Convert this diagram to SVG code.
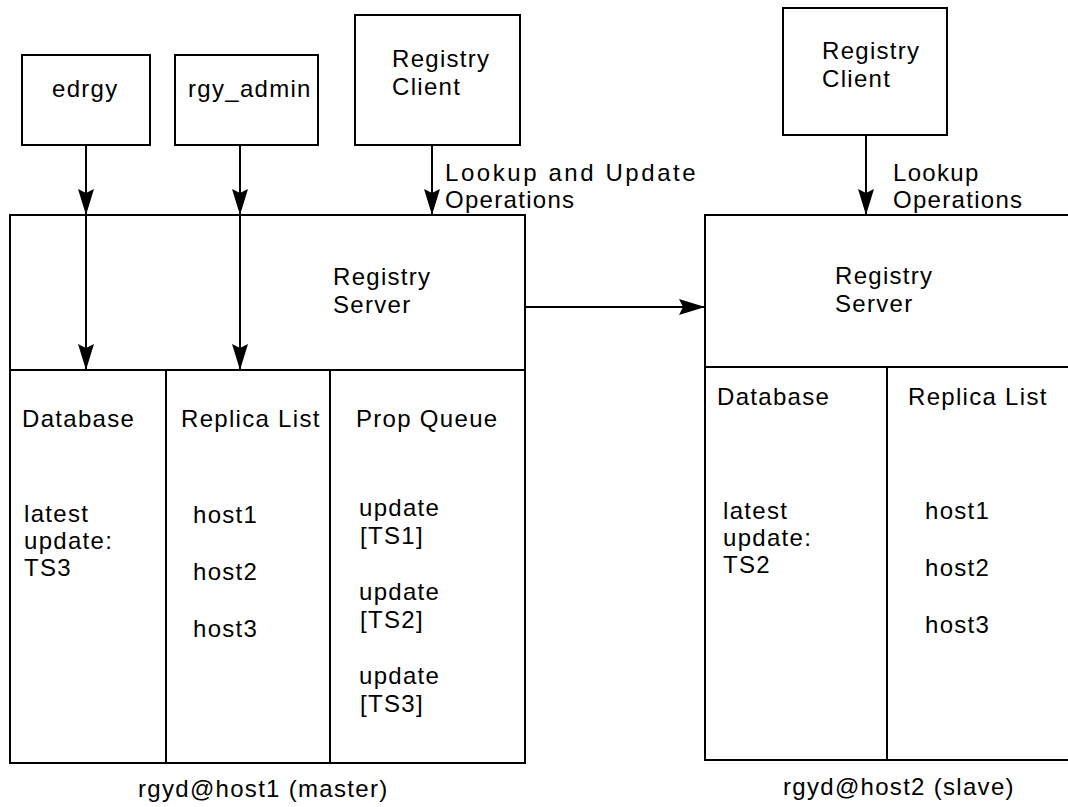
<svg xmlns="http://www.w3.org/2000/svg" width="1068" height="807" viewBox="0 0 1068 807">
  <style>
    .box { fill: #fff; stroke: #000; stroke-width: 2; }
    .ln { fill: none; stroke: #000; stroke-width: 2; }
    .t { font-family: "Liberation Sans", Arial, sans-serif; font-size: 24px; letter-spacing: 1.3px; fill: #000; }
  </style>
  <defs>
    <marker id="arrow" markerUnits="userSpaceOnUse" markerWidth="28" markerHeight="18" refX="26" refY="8" orient="auto">
      <path d="M0,0 L26,8 L0,16 L4,8 Z" fill="#000"/>
    </marker>
  </defs>
  <rect width="1068" height="807" fill="#fff"/>

  <!-- client programs -->
  <g id="edrgy">
    <rect class="box" x="22" y="55" width="128" height="90"/>
    <text class="t" x="52" y="97">edrgy</text>
  </g>
  <g id="rgy_admin">
    <rect class="box" x="175" y="55" width="143" height="90"/>
    <text class="t" x="188" y="97">rgy_admin</text>
  </g>
  <g id="client-master">
    <rect class="box" x="355" y="15" width="165" height="130"/>
    <text class="t" x="392" y="67">Registry</text>
    <text class="t" x="392" y="95">Client</text>
  </g>
  <g id="client-slave">
    <rect class="box" x="783" y="8" width="164" height="127"/>
    <text class="t" x="822" y="59">Registry</text>
    <text class="t" x="822" y="87">Client</text>
  </g>

  <!-- master server -->
  <g id="server-master">
    <rect class="box" x="10" y="215" width="515" height="548"/>
    <line class="ln" x1="10" y1="370" x2="525" y2="370"/>
    <line class="ln" x1="166" y1="370" x2="166" y2="763"/>
    <line class="ln" x1="330" y1="370" x2="330" y2="763"/>
    <text class="t" x="333" y="285">Registry</text>
    <text class="t" x="333" y="313">Server</text>
    <text class="t" x="22" y="427">Database</text>
    <text class="t" x="181" y="427">Replica List</text>
    <text class="t" x="356" y="427">Prop Queue</text>
    <text class="t" x="24" y="522">latest</text>
    <text class="t" x="24" y="549">update:</text>
    <text class="t" x="24" y="576">TS3</text>
    <text class="t" x="193" y="523">host1</text>
    <text class="t" x="193" y="580">host2</text>
    <text class="t" x="193" y="637">host3</text>
    <text class="t" x="359" y="516">update</text>
    <text class="t" x="360" y="544">[TS1]</text>
    <text class="t" x="359" y="600">update</text>
    <text class="t" x="360" y="628">[TS2]</text>
    <text class="t" x="359" y="684">update</text>
    <text class="t" x="360" y="712">[TS3]</text>
    <text class="t" x="138" y="797">rgyd@host1  (master)</text>
  </g>

  <!-- slave server -->
  <g id="server-slave">
    <path class="box" d="M1070,215 H705 V760 H1070"/>
    <line class="ln" x1="705" y1="367" x2="1068" y2="367"/>
    <line class="ln" x1="887" y1="367" x2="887" y2="760"/>
    <text class="t" x="835" y="284">Registry</text>
    <text class="t" x="835" y="312">Server</text>
    <text class="t" x="717" y="405">Database</text>
    <text class="t" x="908" y="405">Replica List</text>
    <text class="t" x="723" y="519">latest</text>
    <text class="t" x="723" y="546">update:</text>
    <text class="t" x="723" y="573">TS2</text>
    <text class="t" x="925" y="519">host1</text>
    <text class="t" x="925" y="576">host2</text>
    <text class="t" x="925" y="633">host3</text>
    <text class="t" x="783" y="795">rgyd@host2  (slave)</text>
  </g>

  <!-- connectors -->
  <g id="connectors">
    <line class="ln" x1="86" y1="145" x2="86" y2="215" marker-end="url(#arrow)"/>
    <line class="ln" x1="86" y1="215" x2="86" y2="370" marker-end="url(#arrow)"/>
    <line class="ln" x1="240" y1="145" x2="240" y2="215" marker-end="url(#arrow)"/>
    <line class="ln" x1="240" y1="215" x2="240" y2="370" marker-end="url(#arrow)"/>
    <line class="ln" x1="432" y1="145" x2="432" y2="215" marker-end="url(#arrow)"/>
    <line class="ln" x1="866" y1="135" x2="866" y2="215" marker-end="url(#arrow)"/>
    <line class="ln" x1="525" y1="307" x2="705" y2="307" marker-end="url(#arrow)"/>
    <text class="t" x="445" y="181" textLength="252" lengthAdjust="spacing">Lookup and Update</text>
    <text class="t" x="445" y="208">Operations</text>
    <text class="t" x="893" y="181">Lookup</text>
    <text class="t" x="893" y="208">Operations</text>
  </g>
</svg>
